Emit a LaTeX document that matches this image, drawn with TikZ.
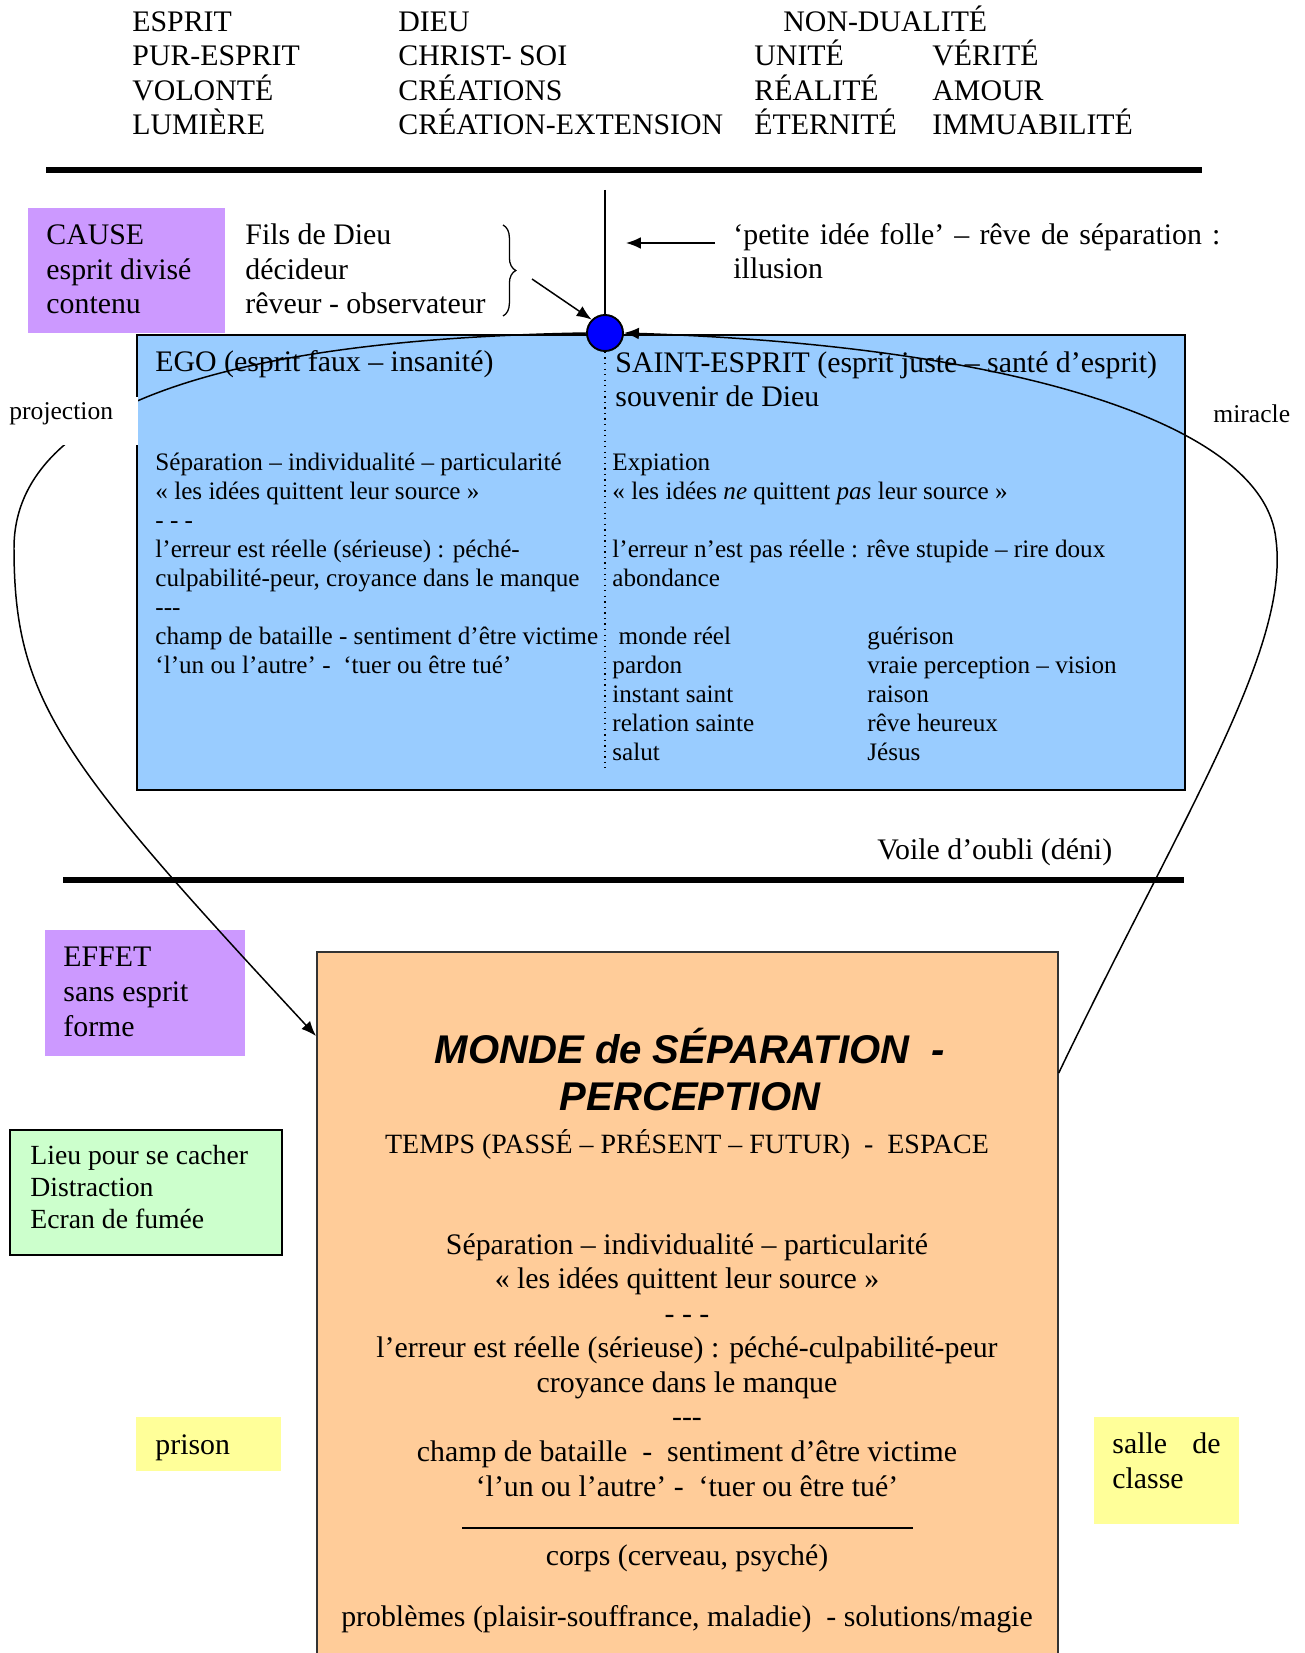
\documentclass[tikz,border=0pt]{standalone}
\usepackage{fontspec}
\setmainfont{Liberation Serif}
\newfontfamily\titlefont{Liberation Sans}
\usepackage{tikz}
\usetikzlibrary{arrows.meta,calc,decorations.pathreplacing}
\definecolor{mauve}{HTML}{CC99FF}
\definecolor{ciel}{HTML}{99CCFF}
\definecolor{peche}{HTML}{FFCC99}
\definecolor{menthe}{HTML}{CCFFCC}
\definecolor{jaune}{HTML}{FFFF99}
\newcommand{\pxu}{0.4693pt}

\begin{document}
\begin{tikzpicture}[x=\pxu, y=-\pxu,
  t/.style={inner sep=0pt, anchor=base west, align=left, font=\fontsize{14}{16.3}\selectfont},
  ts/.style={t, font=\fontsize{11.8}{13.6}\selectfont},
  tc/.style={inner sep=0pt, anchor=base, align=center, font=\fontsize{14}{16.2}\selectfont},
  zone/.style={inner sep=0pt, anchor=north west},
  arr/.style={-{Latex[length=7pt,width=5.5pt]}, line width=0.7pt},
  barre/.style={line width=2.8pt}
]
\useasboundingbox (0,0) rectangle (1304,1653);
\clip (0,0) rectangle (1304,1653);

% en-tete (ancre = ligne de base de la derniere ligne)
\node[t, font=\fontsize{14}{16.2}\selectfont] (esprit) at (132,135) {ESPRIT\\PUR-ESPRIT\\VOLONTÉ\\LUMIÈRE};
\node[t, font=\fontsize{14}{16.2}\selectfont] (dieu) at (398,135) {DIEU\\CHRIST- SOI\\CRÉATIONS\\CRÉATION-EXTENSION};
\node[t] (nondual) at (783,32) {NON-DUALITÉ};
\node[t, font=\fontsize{14}{16.2}\selectfont] (unite) at (754,135) {UNITÉ\\RÉALITÉ\\ÉTERNITÉ};
\node[t, font=\fontsize{14}{16.2}\selectfont] (verite) at (932,135) {VÉRITÉ\\AMOUR\\IMMUABILITÉ};
\draw[barre] (46,170) -- (1202,170);

% zones
\node[zone, fill=mauve, minimum width=197*\pxu, minimum height=125*\pxu] (cause) at (28,208) {};
\node[zone, fill=ciel, draw, line width=1pt, minimum width=1048*\pxu, minimum height=455*\pxu] (espritdiv) at (136,334) {};
\node[zone, fill=mauve, minimum width=200*\pxu, minimum height=126*\pxu] (effet) at (45,930) {};
\node[zone, fill=peche, draw=black!80, line width=0.8pt, minimum width=741*\pxu, minimum height=760*\pxu] (monde) at (316,951) {};
\node[zone, fill=menthe, draw, line width=1.1pt, minimum width=272*\pxu, minimum height=125*\pxu] (cacher) at (9,1129) {};
\node[zone, fill=jaune, minimum width=145*\pxu, minimum height=54*\pxu] (prison) at (136,1417) {};
\node[zone, fill=jaune, minimum width=145*\pxu, minimum height=107*\pxu] (classe) at (1094,1417) {};

% cause
\node[t] (causetxt) at (46,314) {CAUSE\\esprit divisé\\contenu};
\node[t] (fils) at (245,314) {Fils de Dieu\\décideur\\rêveur - observateur};
\draw[decorate, decoration={brace, amplitude=6pt}, line width=0.6pt] (503,225) -- (503,316);
\node[t] (petite) at (733,279) {\makebox[228.5pt][s]{‘petite idée folle’ – rêve de séparation :}\\illusion};

% esprit divise
\node[t] (ego) at (155,372) {EGO (esprit faux – insanité)};
\node[t] (saint) at (615,407) {SAINT-ESPRIT (esprit juste – santé d’esprit)\\souvenir de Dieu};
\node[ts] (egotxt) at (155,673) {Séparation – individualité – particularité\\« les idées quittent leur source »\\- - -\\l’erreur est réelle (sérieuse) : péché-\\culpabilité-peur, croyance dans le manque\\-{}-{}-\\champ de bataille - sentiment d’être victime\\‘l’un ou l’autre’ -\ \ ‘tuer ou être tué’};
\node[ts] (expiation) at (612,760) {Expiation\\« les idées \textit{ne} quittent \textit{pas} leur source »\\[13.6pt]l’erreur n’est pas réelle : rêve stupide – rire doux\\abondance\\[13.6pt]\ monde réel\\pardon\\instant saint\\relation sainte\\salut};
\node[ts] (guerison) at (867,760) {guérison\\vraie perception – vision\\raison\\rêve heureux\\Jésus};

\node[t] (voile) at (877,859) {Voile d’oubli (déni)};
\draw[barre] (63,880) -- (1184,880);

% effet
\node[t] (effettxt) at (63,1036) {EFFET\\sans esprit\\forme};
\node[inner sep=0pt, anchor=base, align=center, font={\titlefont\bfseries\itshape\fontsize{18.8}{21.6}\selectfont}] (titre) at (690,1110) {MONDE de SÉPARATION\ \ -\\PERCEPTION};
\node[tc, font=\fontsize{13.1}{16.2}\selectfont] (temps) at (687,1153) {TEMPS (PASSÉ – PRÉSENT – FUTUR)\ \ -\ \ ESPACE};
\node[tc] (sep) at (687,1496) {Séparation – individualité – particularité\\« les idées quittent leur source »\\- - -\\l’erreur est réelle (sérieuse) : péché-culpabilité-peur\\croyance dans le manque\\-{}-{}-\\champ de bataille\ \ -\ \ sentiment d’être victime\\‘l’un ou l’autre’ -\ \ ‘tuer ou être tué’};
\draw[line width=0.8pt] (462,1528) -- (913,1528);
\node[tc] (corps) at (687,1565) {corps (cerveau, psyché)};
\node[tc] (problemes) at (687,1626) {problèmes (plaisir-souffrance, maladie)\ \ - solutions/magie};

\node[t, font=\fontsize{13}{15}\selectfont] (lieu) at (30,1228) {Lieu pour se cacher\\Distraction\\Ecran de fumée};
\node[t] (prisontxt) at (155,1454) {prison};
\node[t] (classetxt) at (1112,1488) {\makebox[50.7pt][s]{salle de}\\classe};

% decideur et fleches
\node[circle, draw, fill=blue, line width=0.9pt, minimum size=36*\pxu, inner sep=0pt] (dot) at (605,333) {};
\coordinate (haut) at (605,190);
\coordinate (pied) at (605,768);
\coordinate (folle) at (715,243);
\coordinate (trait) at (626,243);
\coordinate (accol) at (532,279);
\draw[line width=0.7pt] (haut) -- (dot.north);
\draw[dotted, line width=0.6pt] (dot.south) -- (pied);
\draw[arr] (folle) -- (trait);
\draw[arr] (accol) -- (dot.north west);
\draw[arr] (dot.west) .. controls (280,338) and (14,390) .. (14,548)
  .. controls (14,700) and (60,760) .. ($(monde.north west)+(0,85)$);
\draw[arr] ($(monde.north east)+(0,122)$) .. controls (1180,820) and (1290,650) .. (1276,540)
  .. controls (1265,420) and (1000,345) .. (dot.east);

\node[zone, fill=white, minimum width=138*\pxu, minimum height=48*\pxu] (masque) at (0,397) {};
\node[ts, font=\fontsize{12}{13.6}\selectfont] (projection) at (9,420) {projection};
\node[ts, font=\fontsize{12}{13.6}\selectfont] (miracle) at (1213,423) {miracle};
\end{tikzpicture}
\end{document}
